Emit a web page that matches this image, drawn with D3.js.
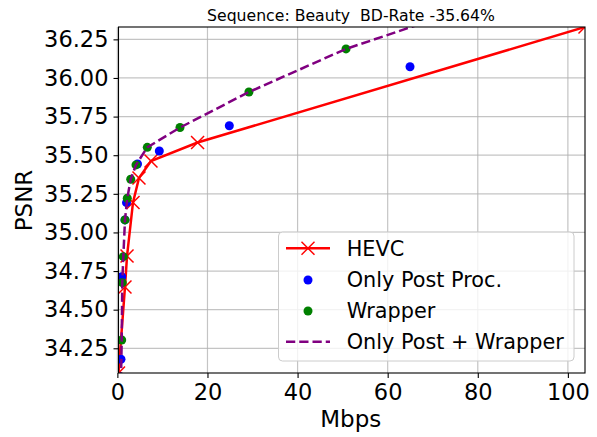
<!DOCTYPE html>
<html><head><meta charset="utf-8">
<script src="https://cdn.jsdelivr.net/npm/d3@7"></script>
<style>body{margin:0;background:#fff}svg{display:block;font-family:"DejaVu Sans",sans-serif}text{white-space:pre}</style>
</head><body><svg id="c" width="597" height="437"></svg>
<script>
const titleText = "Sequence: Beauty  BD-Rate -35.64%";
const xLabel = "Mbps", yLabel = "PSNR";
const xTicks = [0, 20, 40, 60, 80, 100];
const yTicks = [34.25, 34.5, 34.75, 35.0, 35.25, 35.5, 35.75, 36.0, 36.25];

const hevcRate = [0.25, 1.69, 2.14, 3.47, 4.80, 7.46, 17.8, 103.8];
const hevcPsnr = [34.09, 34.647, 34.847, 35.194, 35.352, 35.462, 35.582, 36.33];

const postRate = [0.80, 0.96, 1.69, 2.03, 4.47, 9.31, 24.85, 64.96];
const postPsnr = [34.179, 34.713, 35.081, 35.193, 35.443, 35.527, 35.691, 36.073];

const wrapRate = [0.96, 1.09, 1.32, 1.69, 2.20, 2.96, 4.13, 6.64, 13.9, 29.2, 50.75];
const wrapPsnr = [34.304, 34.675, 34.843, 35.081, 35.221, 35.344, 35.437, 35.551, 35.679, 35.909, 36.188];

const bothRate = [0.75, 0.96, 1.09, 1.32, 1.69, 2.20, 2.96, 4.13, 6.64, 13.9, 29.2, 50.75, 85.0];
const bothPsnr = [33.95, 34.304, 34.675, 34.843, 35.081, 35.221, 35.344, 35.437, 35.551, 35.679, 35.909, 36.188, 36.524];

const legendNames = ["HEVC", "Only Post Proc.", "Wrapper", "Only Post + Wrapper"];

const svg = d3.select("#c");
const L = 118.5, R = 585, T = 27, B = 373;
const x = d3.scaleLinear().domain([hevcRate[0], hevcRate[hevcRate.length-1]]).range([L, R]);
const y = d3.scaleLinear().domain([hevcPsnr[0], hevcPsnr[hevcPsnr.length-1]]).range([B, T]);
const zip = (a, b) => a.map((v, i) => [v, b[i]]);

svg.append("defs").append("clipPath").attr("id", "clip")
  .append("rect").attr("x", L).attr("y", T).attr("width", R - L).attr("height", B - T);

// grid
const g = svg.append("g");
g.selectAll(".gx").data(xTicks).join("line")
  .attr("x1", d => x(d)).attr("x2", d => x(d)).attr("y1", T).attr("y2", B)
  .attr("stroke", "#b0b0b0").attr("stroke-width", 1.2).attr("stroke-opacity", 0.75);
g.selectAll(".gy").data(yTicks).join("line")
  .attr("x1", L).attr("x2", R).attr("y1", d => y(d)).attr("y2", d => y(d))
  .attr("stroke", "#b0b0b0").attr("stroke-width", 1.2).attr("stroke-opacity", 0.75);

const plot = svg.append("g").attr("clip-path", "url(#clip)");
const line = d3.line().x(d => x(d[0])).y(d => y(d[1]));

// HEVC
plot.append("path").datum(zip(hevcRate, hevcPsnr)).attr("d", line)
  .attr("fill", "none").attr("stroke", "#ff0000").attr("stroke-width", 2.5);
const xm = 6.5;
const xMark = (sel) => sel.each(function(d) {
  const s = d3.select(this), cx = x(d[0]), cy = y(d[1]);
  s.append("line").attr("x1", cx - xm).attr("y1", cy - xm).attr("x2", cx + xm).attr("y2", cy + xm);
  s.append("line").attr("x1", cx - xm).attr("y1", cy + xm).attr("x2", cx + xm).attr("y2", cy - xm);
}).attr("stroke", "#ff0000").attr("stroke-width", 1.5);
plot.append("g").selectAll("g").data(zip(hevcRate, hevcPsnr)).join("g").call(xMark);

// Post
plot.append("g").selectAll("circle").data(zip(postRate, postPsnr)).join("circle")
  .attr("cx", d => x(d[0])).attr("cy", d => y(d[1])).attr("r", 4.5).attr("fill", "#0000ff");
// Wrapper
plot.append("g").selectAll("circle").data(zip(wrapRate, wrapPsnr)).join("circle")
  .attr("cx", d => x(d[0])).attr("cy", d => y(d[1])).attr("r", 4.5).attr("fill", "#008000");
// Both
plot.append("path").datum(zip(bothRate, bothPsnr)).attr("d", line)
  .attr("fill", "none").attr("stroke", "#800080").attr("stroke-width", 2.5)
  .attr("stroke-dasharray", "9.25,4");

// axes
const xAxis = svg.append("g").attr("transform", `translate(0,${B})`)
  .call(d3.axisBottom(x).tickValues(xTicks).tickFormat(d3.format("d")).tickSize(5).tickPadding(5));
const yAxis = svg.append("g").attr("transform", `translate(${L},0)`)
  .call(d3.axisLeft(y).tickValues(yTicks).tickFormat(d3.format(".2f")).tickSize(5).tickPadding(5));
[xAxis, yAxis].forEach(a => {
  a.select(".domain").remove();
  a.selectAll("line").attr("stroke", "#000").attr("stroke-width", 1.1);
  a.selectAll("text").attr("font-size", 22.5).attr("fill", "#000").attr("font-family", "DejaVu Sans");
});
xAxis.selectAll("text").attr("dy", "0.75em");

svg.append("rect").attr("x", L).attr("y", T).attr("width", R - L).attr("height", B - T)
  .attr("fill", "none").attr("stroke", "#000").attr("stroke-width", 1.1);

// labels
svg.append("text").attr("x", (L + R) / 2 - 1).attr("y", 426.5).attr("text-anchor", "middle")
  .attr("font-size", 23).text(xLabel);
svg.append("text").attr("transform", "translate(31.5,200.5) rotate(-90)").attr("text-anchor", "middle")
  .attr("font-size", 23).text(yLabel);
svg.append("text").attr("x", 351).attr("y", 20.5).attr("text-anchor", "middle")
  .attr("font-size", 15.7).attr("xml:space", "preserve").text(titleText);

// legend
const lg = svg.append("g");
lg.append("rect").attr("x", 278.5).attr("y", 232).attr("width", 295.5).attr("height", 129).attr("rx", 4)
  .attr("fill", "#fff").attr("fill-opacity", 0.8).attr("stroke", "#cccccc").attr("stroke-width", 1);
const rowY = [248.3, 280, 311, 341.7];
lg.selectAll("text").data(legendNames).join("text")
  .attr("x", 346.7).attr("y", (d, i) => rowY[i]).attr("dy", "0.36em").attr("font-size", 20.8).text(d => d);
lg.append("line").attr("x1", 286).attr("x2", 330).attr("y1", rowY[0]).attr("y2", rowY[0])
  .attr("stroke", "#ff0000").attr("stroke-width", 2.5);
[[1,1],[1,-1]].forEach(([a,b]) => lg.append("line")
  .attr("x1", 308 - xm).attr("y1", rowY[0] - xm * b).attr("x2", 308 + xm).attr("y2", rowY[0] + xm * b)
  .attr("stroke", "#ff0000").attr("stroke-width", 1.5));
lg.append("circle").attr("cx", 308).attr("cy", rowY[1]).attr("r", 4.5).attr("fill", "#0000ff");
lg.append("circle").attr("cx", 308).attr("cy", rowY[2]).attr("r", 4.5).attr("fill", "#008000");
lg.append("line").attr("x1", 286).attr("x2", 330).attr("y1", rowY[3]).attr("y2", rowY[3])
  .attr("stroke", "#800080").attr("stroke-width", 2.5).attr("stroke-dasharray", "9.25,4");
</script></body></html>
